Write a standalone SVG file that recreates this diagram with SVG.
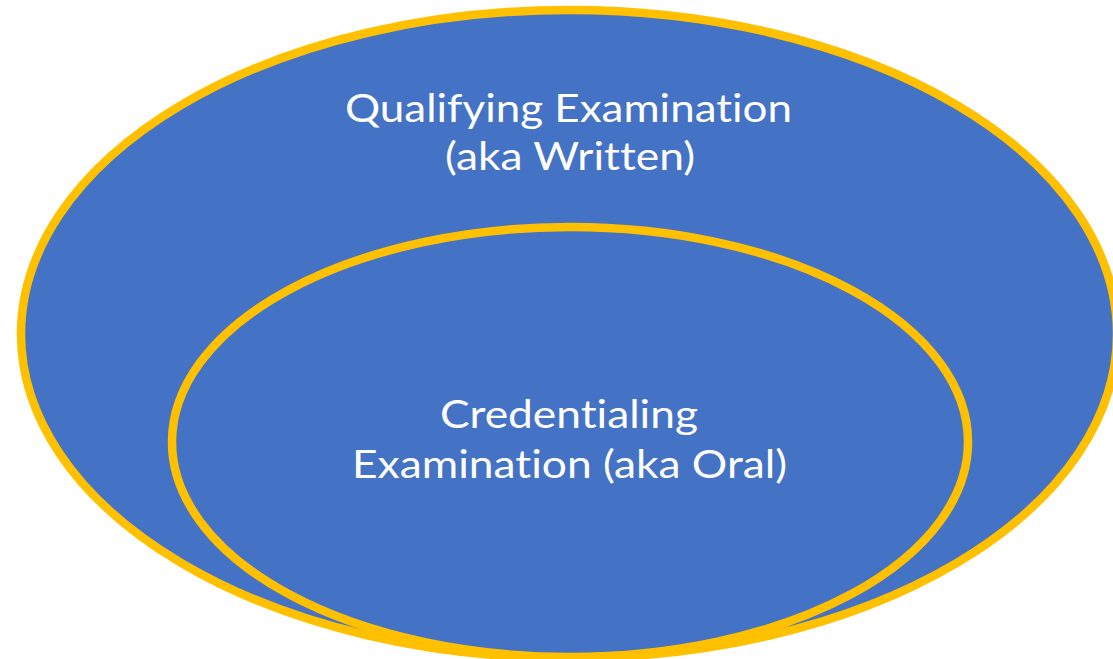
<svg xmlns="http://www.w3.org/2000/svg" width="1113" height="659" viewBox="0 0 1113 659">
<style>
.ell{fill:#4472C4;stroke:#FFC000;stroke-width:8.5}
.lbl{fill:#FFFFFF;font-family:Lato,"Open Sans","Liberation Sans",sans-serif;font-size:39px;text-anchor:middle;font-variant-ligatures:none;font-feature-settings:"liga" 0,"dlig" 0}
</style>
<rect width="1113" height="659" fill="#FFFFFF"/>
<g id="qualifying">
<ellipse class="ell" cx="569" cy="334" rx="548" ry="324"/>
<text class="lbl" x="568.5" y="122" textLength="447" lengthAdjust="spacingAndGlyphs">Qualifying Examination</text>
<text class="lbl" x="570" y="170" textLength="250" lengthAdjust="spacingAndGlyphs">(aka Written)</text>
</g>
<g id="credentialing">
<ellipse class="ell" cx="570" cy="442" rx="398" ry="215"/>
<text class="lbl" x="569" y="428" textLength="258" lengthAdjust="spacingAndGlyphs">Credentialing</text>
<text class="lbl" x="569.5" y="478" textLength="435" lengthAdjust="spacingAndGlyphs">Examination (aka Oral)</text>
</g>
<g id="connectors"/>
</svg>
